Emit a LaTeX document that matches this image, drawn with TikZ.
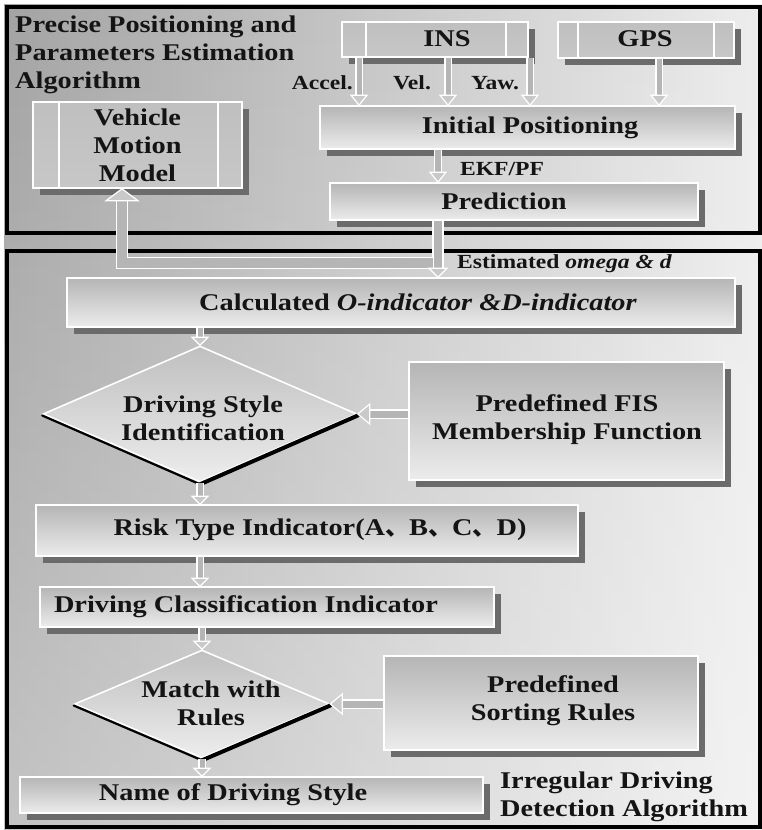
\documentclass[tikz,border=0pt]{standalone}
\usepackage{fontspec}
\setmainfont{Liberation Serif}[FakeStretch=1.18]
\newfontfamily\cjk{Noto Sans CJK SC}
\usetikzlibrary{calc,shapes.geometric,shadows,fadings}

\newcommand\bigf{\fontsize{24}{28}\selectfont\bfseries}
\newcommand\smf{\fontsize{20}{24}\selectfont\bfseries}

\tikzset{
  panel/.style={draw=black, line width=3.5pt},
  box/.style={draw=white, line width=1.6pt, top color=gray!58, bottom color=gray!15, inner sep=0pt,
    drop shadow={shadow xshift=7pt, shadow yshift=-7pt, fill=black!58, opacity=1}},
  flatbox/.style={box, top color=gray!50, bottom color=gray!44},
  decision/.style={diamond, draw=white, line width=1.6pt, top color=gray!50, bottom color=gray!14, inner sep=0pt, aspect=2.3},
  txt/.style={font=\bigf, align=center, inner sep=0pt, text=black!92},
  lbl/.style={font=\smf, inner sep=0pt, text=black!92},
  shaft/.style={draw=white, line width=1.2pt, double=gray!58, line cap=butt, line join=miter},
  ahead/.style={draw=white, line width=1.2pt, fill=gray!42, line join=miter},
  lowedge/.style={draw=black, line cap=round},
  sepline/.style={draw=white, line width=1.6pt},
}

% arrow head only: #1 from, #2 tip, #3 half width, #4 length
\newcommand\arrowtip[4]{%
  \coordinate (hts) at (#1);
  \coordinate (hte) at (#2);
  \coordinate (htb) at ($(hte)!#4!(hts)$);
  \filldraw[ahead] ($(htb)!#3!90:(hte)$) -- (hte) -- ($(htb)!#3!-90:(hte)$) -- cycle;
}
% block arrow: #1 start, #2 tip, #3 shaft width, #4 head half width, #5 head length
\newcommand\blockarrow[5]{%
  \coordinate (bas) at (#1);
  \coordinate (bae) at (#2);
  \coordinate (bab) at ($(bae)!#5!(bas)$);
  \draw[shaft, double distance=#3] (bas) -- (bab);
  \arrowtip{bas}{bae}{#4}{#5}
}

\begin{document}
\begin{tikzpicture}[x=1pt,y=-1pt]
\useasboundingbox (0,0) rectangle (762,830);
\fill[white] (0,0) rectangle (762,830);
\shade[left color=gray!72, right color=gray!14] (4,4) rectangle (762,830);
\fill[white, opacity=0.35, path fading=north] (4,4) rectangle (762,830);
\draw[panel] (7,7) rectangle (760,233);
\draw[panel] (7,251) rectangle (760,827);

% boxes
\node[flatbox, minimum width=209pt, minimum height=86pt] (vmm) at (137.5,145) {};
\node[flatbox, minimum width=186pt, minimum height=35pt] (ins) at (435,39.5) {};
\node[flatbox, minimum width=176pt, minimum height=36pt] (gps) at (646,40) {};
\node[box, minimum width=415pt, minimum height=43pt] (ip) at (527.5,127.5) {};
\node[box, minimum width=368pt, minimum height=37pt] (pred) at (514,201.5) {};
\node[box, minimum width=668pt, minimum height=49pt] (calc) at (401,302.5) {};
\node[box, minimum width=315pt, minimum height=118pt] (fis) at (566.5,421) {};
\node[box, minimum width=542pt, minimum height=51pt] (risk) at (307,530.5) {};
\node[box, minimum width=454pt, minimum height=40pt] (dci) at (267,607) {};
\node[box, minimum width=314pt, minimum height=94pt] (sort) at (541,703) {};
\node[box, minimum width=463pt, minimum height=36pt] (name) at (251.5,795) {};
\node[decision, minimum width=314pt, minimum height=136pt] (d1) at (200,414) {};
\node[decision, minimum width=255pt, minimum height=108pt] (d2) at (202,704) {};

% inner separator lines
\draw[sepline] ($(vmm.north west)+(27,0)$) -- ($(vmm.south west)+(27,0)$);
\draw[sepline] ($(vmm.north east)+(-25,0)$) -- ($(vmm.south east)+(-25,0)$);
\draw[sepline] ($(ins.north west)+(25,0)$) -- ($(ins.south west)+(25,0)$);
\draw[sepline] ($(ins.north east)+(-23,0)$) -- ($(ins.south east)+(-23,0)$);
\draw[sepline] ($(gps.north west)+(21,0)$) -- ($(gps.south west)+(21,0)$);
\draw[sepline] ($(gps.north east)+(-21,0)$) -- ($(gps.south east)+(-21,0)$);

% dark lower edges of the decisions
\draw[lowedge, line width=2.2pt] ($(d1.west)+(0,1.5)$) -- ($(d1.south)+(0,1.5)$);
\draw[lowedge, line width=4pt] ($(d1.south)+(0,1.5)$) -- ($(d1.east)+(0,1.5)$);
\draw[lowedge, line width=2.2pt] ($(d2.west)+(0,1.5)$) -- ($(d2.south)+(0,1.5)$);
\draw[lowedge, line width=4pt] ($(d2.south)+(0,1.5)$) -- ($(d2.east)+(0,1.5)$);

% helper coordinates
\coordinate (xa) at (359,0);
\coordinate (xv) at (448,0);
\coordinate (xy) at (530,0);
\coordinate (xg) at (659,0);
\coordinate (xe) at (438,0);
\coordinate (xm) at (122,0);
\coordinate (yb) at (0,263);
\coordinate (yh) at (0,230);

% connectors
\blockarrow{ins.south -| xa}{ip.north -| xa}{5pt}{8pt}{10pt}
\blockarrow{ins.south -| xv}{ip.north -| xv}{5pt}{8pt}{10pt}
\blockarrow{ins.south -| xy}{ip.north -| xy}{5pt}{8pt}{10pt}
\blockarrow{gps.south -| xg}{ip.north -| xg}{5pt}{8pt}{10pt}
\blockarrow{ip.south -| xe}{pred.north -| xe}{6pt}{8pt}{10pt}
\draw[shaft, double distance=10pt] (pred.south -| xe) -- (xe |- yb) -- (xm |- yb) -- ($(vmm.south -| xm)+(0,12)$);
\arrowtip{xm |- yh}{vmm.south -| xm}{16pt}{12pt}
\blockarrow{pred.south -| xe}{calc.north -| xe}{8pt}{9pt}{9pt}
\blockarrow{calc.south -| d1.north}{d1.north}{5pt}{8pt}{8pt}
\blockarrow{fis.west |- d1.east}{d1.east}{7pt}{10pt}{12pt}
\blockarrow{d1.south}{risk.north -| d1.south}{5pt}{8pt}{8pt}
\blockarrow{risk.south -| d1.south}{dci.north -| d1.south}{5pt}{8pt}{8pt}
\blockarrow{dci.south -| d2.north}{d2.north}{5pt}{8pt}{8pt}
\blockarrow{sort.west |- d2.east}{d2.east}{7pt}{10pt}{12pt}
\blockarrow{d2.south}{name.north -| d2.south}{5pt}{8pt}{8pt}

% texts
\node[txt, align=left, anchor=north west] (title) at (15,15.5) {Precise Positioning and\\Parameters Estimation\\Algorithm};
\node[txt] (vmm-t) at (137.5,145) {Vehicle\\Motion\\Model};
\node[txt] (ins-t) at (447,39) {INS};
\node[txt] (gps-t) at (645,39) {GPS};
\node[txt] (ip-t) at (530,128) {Initial Positioning};
\node[txt] (pred-t) at (504,201) {Prediction};
\node[txt] (calc-t) at (418,302) {Calculated \textit{O-indicator \&D-indicator}};
\node[txt] (d1-t) at (203,418) {Driving Style\\Identification};
\node[txt] (fis-t) at (567,420) {Predefined FIS\\Membership Function};
\node[txt] (risk-t) at (320,530) {Risk Type Indicator(A{\cjk 、}B{\cjk 、}C{\cjk 、}D)};
\node[txt] (dci-t) at (246,607) {Driving Classification Indicator};
\node[txt] (d2-t) at (211,703) {Match with\\Rules};
\node[txt] (sort-t) at (553,701) {Predefined\\Sorting Rules};
\node[txt] (name-t) at (233,795) {Name of Driving Style};
\node[txt, align=left, anchor=west] (irr) at (500,797) {Irregular Driving\\Detection Algorithm};

\node[lbl, anchor=east] (acc) at (353,83) {Accel.};
\node[lbl] (vel) at (412,83) {Vel.};
\node[lbl] (yaw) at (495,83) {Yaw.};
\node[lbl] (ekf) at (502,169) {EKF/PF};
\node[lbl, anchor=west] (est) at (457,264) {Estimated \textit{omega \& d}};
\end{tikzpicture}
\end{document}
